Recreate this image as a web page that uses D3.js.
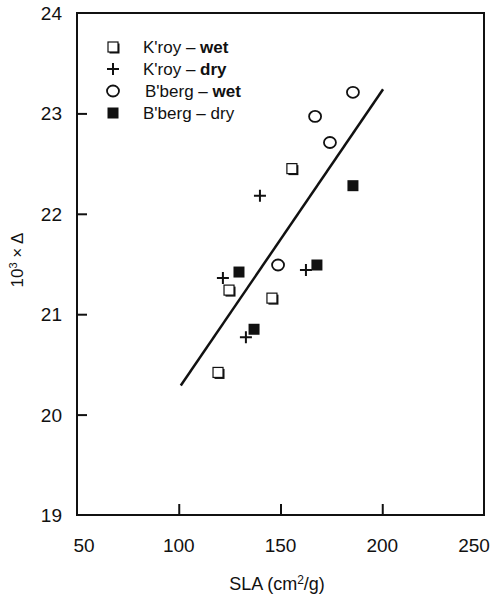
<!DOCTYPE html>
<html>
<head>
<meta charset="utf-8">
<script src="https://cdn.jsdelivr.net/npm/d3@7"></script>
<style>
  body { margin: 0; background: #fff; }
  svg text { font-family: "Liberation Sans", Arial, Helvetica, sans-serif; fill: #111; }
</style>
</head>
<body>
<div id="chart"></div>
<script>
// ====================
// Data
// ====================
const xTicks = [50, 100, 150, 200, 250];
const yTicks = [19, 20, 21, 22, 23, 24];

// K'roy - wet (open square)
const kroyWet = [[155.6, 22.45], [124.7, 21.24], [145.8, 21.16], [119.3, 20.42]];
// K'roy - dry (plus)
const kroyDry = [[139.9, 22.18], [121.7, 21.36], [162.5, 21.44], [133.0, 20.77]];
// B'berg - wet (open circle)
const bbergWet = [[185.6, 23.21], [167.0, 22.97], [174.3, 22.71], [148.8, 21.49]];
// B'berg - dry (filled square)
const bbergDry = [[185.6, 22.28], [129.6, 21.42], [167.9, 21.49], [137.0, 20.85]];

// regression line end points
const fitLine = [[101, 20.29], [200.4, 23.24]];

const legendItems = [
    { name: "K'roy – ", cond: "wet", bold: true, sym: "sqOpen" },
    { name: "K'roy – ", cond: "dry", bold: true, sym: "plus" },
    { name: "B'berg – ", cond: "wet", bold: true, sym: "circle" },
    { name: "B'berg – ", cond: "dry", bold: false, sym: "sqFill" },
];

// ====================
// Layout
// ====================
const width = 492, height = 600;
const plotL = 77, plotR = 484, plotT = 13, plotB = 515;

const svg = d3.select("#chart").append("svg")
    .attr("width", width)
    .attr("height", height);

const x = d3.scaleLinear().domain([50, 250]).range([plotL, plotR]);
const y = d3.scaleLinear().domain([19, 24]).range([plotB, plotT]);

// frame
svg.append("rect")
    .attr("x", plotL).attr("y", plotT)
    .attr("width", plotR - plotL).attr("height", plotB - plotT)
    .attr("fill", "none").attr("stroke", "#111").attr("stroke-width", 2);

// x axis (ticks point inward)
const xAxis = svg.append("g")
    .attr("transform", `translate(0,${plotB})`)
    .call(d3.axisTop(x).tickValues(xTicks).tickSize(11).tickFormat(""));
xAxis.select(".domain").remove();
xAxis.selectAll("line").attr("stroke", "#111").attr("stroke-width", 2);
xAxis.selectAll(".tick").filter(d => d === 50 || d === 250).select("line").remove();

svg.append("g").selectAll("text")
    .data(xTicks)
    .join("text")
    .attr("x", d => x(d) + (d === 50 ? 7 : d === 250 ? -10 : 0))
    .attr("y", 552)
    .attr("text-anchor", "middle")
    .style("font-size", "19px")
    .text(d => d);

// y axis (ticks point inward)
const yAxis = svg.append("g")
    .attr("transform", `translate(${plotL},0)`)
    .call(d3.axisRight(y).tickValues(yTicks).tickSize(10).tickFormat(""));
yAxis.select(".domain").remove();
yAxis.selectAll("line").attr("stroke", "#111").attr("stroke-width", 2);
yAxis.selectAll(".tick").filter(d => d === 19 || d === 24).select("line").remove();

svg.append("g").selectAll("text")
    .data(yTicks)
    .join("text")
    .attr("x", 62)
    .attr("y", d => y(d) + 7)
    .attr("text-anchor", "end")
    .style("font-size", "19px")
    .text(d => d);

// axis titles
svg.append("text")
    .attr("x", 277).attr("y", 590)
    .attr("text-anchor", "middle")
    .style("font-size", "18px")
    .call(t => {
        t.append("tspan").text("SLA (cm");
        t.append("tspan").attr("dy", -6).style("font-size", "12px").text("2");
        t.append("tspan").attr("dy", 6).text("/g)");
    });

svg.append("text")
    .attr("transform", "translate(23,260) rotate(-90)")
    .attr("text-anchor", "middle")
    .style("font-size", "17px")
    .call(t => {
        t.append("tspan").text("10");
        t.append("tspan").attr("dy", -6).style("font-size", "11px").text("3");
        t.append("tspan").attr("dy", 6).text(" × Δ");
    });

// ====================
// Symbols
// ====================
function drawSymbol(g, sym, cx, cy) {
    if (sym === "sqOpen") {
        const s = 10;
        g.append("rect")
            .attr("x", cx - s / 2 + 1.5).attr("y", cy - s / 2 + 1.5)
            .attr("width", s).attr("height", s).attr("fill", "#111");
        g.append("rect")
            .attr("x", cx - s / 2).attr("y", cy - s / 2)
            .attr("width", s).attr("height", s)
            .attr("fill", "#fff").attr("stroke", "#111").attr("stroke-width", 1.2);
    } else if (sym === "sqFill") {
        const s = 11;
        g.append("rect")
            .attr("x", cx - s / 2).attr("y", cy - s / 2)
            .attr("width", s).attr("height", s).attr("fill", "#111");
    } else if (sym === "circle") {
        g.append("ellipse")
            .attr("cx", cx).attr("cy", cy).attr("rx", 6).attr("ry", 5.5)
            .attr("fill", "#fff").attr("stroke", "#111").attr("stroke-width", 1.8);
    } else if (sym === "plus") {
        const h = 6;
        g.append("path")
            .attr("d", `M${cx - h},${cy}H${cx + h}M${cx},${cy - h}V${cy + h}`)
            .attr("stroke", "#111").attr("stroke-width", 2).attr("fill", "none");
    }
}

// regression line
svg.append("line")
    .attr("x1", x(fitLine[0][0])).attr("y1", y(fitLine[0][1]))
    .attr("x2", x(fitLine[1][0])).attr("y2", y(fitLine[1][1]))
    .attr("stroke", "#111").attr("stroke-width", 2.5);

const pts = svg.append("g").attr("class", "points");
[[kroyWet, "sqOpen"], [kroyDry, "plus"], [bbergWet, "circle"], [bbergDry, "sqFill"]]
    .forEach(([series, sym]) => {
        series.forEach(d => drawSymbol(pts, sym, x(d[0]), y(d[1])));
    });

// ====================
// Legend
// ====================
const legend = svg.append("g");
const rowY = [47, 69, 91, 113];
legendItems.forEach((item, i) => {
    drawSymbol(legend, item.sym, 113, rowY[i]);
    const t = legend.append("text")
        .attr("x", item.sym === "circle" ? 145 : 143)
        .attr("y", rowY[i] + 6)
        .style("font-size", "17px");
    t.append("tspan").text(item.name);
    t.append("tspan").style("font-weight", item.bold ? "bold" : "normal").text(item.cond);
});
</script>
</body>
</html>
